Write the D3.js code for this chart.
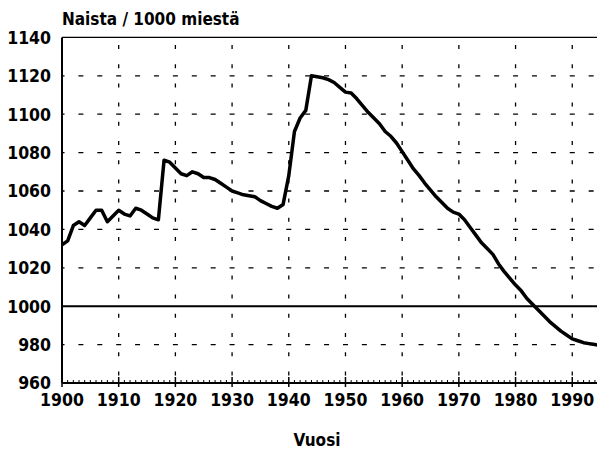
<!DOCTYPE html>
<html>
<head>
<meta charset="utf-8">
<script src="https://cdn.jsdelivr.net/npm/d3@7"></script>
<style>
    body { margin: 0; background: #fff; }
    svg text { font-family: "Liberation Sans Narrow", "DejaVu Sans Condensed", "Roboto Condensed", sans-serif; font-weight: bold; fill: #000; }
</style>
</head>
<body>
<svg id="main" width="597" height="452"></svg>
<script>
// women per 1000 men, Finland
var years = d3.range(1900, 1996);
var ratio = [
    1032, 1034, 1042, 1044, 1042, 1046, 1050, 1050, 1044, 1047,   // 1900s
    1050, 1048, 1047, 1051, 1050, 1048, 1046, 1045, 1076, 1075,   // 1910s
    1072, 1069, 1068, 1070, 1069, 1067, 1067, 1066, 1064, 1062,   // 1920s
    1060, 1059, 1058, 1057.5, 1057, 1055, 1053.5, 1052, 1051, 1053, // 1930s
    1068, 1091, 1098, 1102, 1120, 1119.5, 1119, 1118, 1116.5, 1114, // 1940s
    1111.5, 1111, 1108, 1104.5, 1101, 1098, 1095, 1091, 1088.5, 1085, // 1950s
    1080.5, 1076, 1071.5, 1068, 1064, 1060.5, 1057, 1054, 1051, 1049, // 1960s
    1048, 1045, 1041, 1037, 1033, 1030, 1027, 1022, 1018, 1014.5, // 1970s
    1011, 1008, 1004, 1001, 998, 995, 992, 989.5, 987, 985,       // 1980s
    983, 982, 981, 980.5, 980, 979.5                              // 1990s
];

var yTicks = d3.range(960, 1141, 20);
var xTicks = d3.range(1900, 1991, 10);
var minorTicks = d3.range(1900, 1996, 1);
var refLevel = 1000;

var titleText = "Naista / 1000 miestä";
var xTitleText = "Vuosi";

var svg = d3.select('svg#main');

var x = d3.scaleLinear().domain([1900, 1995]).range([62, 600.6]);
var y = d3.scaleLinear().domain([960, 1140]).range([383, 37.4]);

// careful: "top" is taken by window.top
var plotLeft = x(1900), plotRight = x(1995), plotTop = y(1140), plotBottom = y(960);

// dashed grid, dash spacing follows the scales
var hPeriod = (x(1910) - x(1900)) / 3;
var vPeriod = (y(960) - y(970));

svg.append('g')
    .selectAll('line').data(yTicks.filter(d => d != 960 && d != 1140 && d != refLevel))
    .join('line')
    .attr('x1', plotLeft).attr('x2', plotRight)
    .attr('y1', d => y(d)).attr('y2', d => y(d))
    .attr('stroke', '#000').attr('stroke-width', 1.3)
    .attr('stroke-dasharray', `5,${hPeriod - 5}`)
    .attr('stroke-dashoffset', -hPeriod + 2.5);

svg.append('g')
    .selectAll('line').data(xTicks.filter(d => d != 1900))
    .join('line')
    .attr('x1', d => x(d)).attr('x2', d => x(d))
    .attr('y1', plotBottom).attr('y2', plotTop)
    .attr('stroke', '#000').attr('stroke-width', 1.3)
    .attr('stroke-dasharray', `4,${vPeriod - 4}`)
    .attr('stroke-dashoffset', -vPeriod / 2 + 2);

// top border
svg.append('line')
    .attr('x1', plotLeft).attr('x2', plotRight)
    .attr('y1', plotTop).attr('y2', plotTop)
    .attr('stroke', '#000').attr('stroke-width', 1.2);

// 1000 reference line
svg.append('line')
    .attr('x1', plotLeft).attr('x2', plotRight)
    .attr('y1', y(refLevel)).attr('y2', y(refLevel))
    .attr('stroke', '#000').attr('stroke-width', 2);

// axes lines
svg.append('line')
    .attr('x1', plotLeft).attr('x2', plotLeft)
    .attr('y1', plotTop).attr('y2', plotBottom)
    .attr('stroke', '#000').attr('stroke-width', 2);
svg.append('line')
    .attr('x1', plotLeft).attr('x2', plotRight)
    .attr('y1', plotBottom).attr('y2', plotBottom)
    .attr('stroke', '#000').attr('stroke-width', 2);

// yearly minor ticks + decade ticks on bottom axis
svg.append('g')
    .selectAll('line').data(minorTicks)
    .join('line')
    .attr('x1', d => x(d)).attr('x2', d => x(d))
    .attr('y1', d => d % 10 == 0 ? plotBottom + 4 : plotBottom)
    .attr('y2', d => d % 10 == 0 ? plotBottom - 6 : plotBottom - 3)
    .attr('stroke', '#000').attr('stroke-width', d => d % 10 == 0 ? 1.5 : 1);

// tick labels
svg.append('g')
    .selectAll('text').data(yTicks)
    .join('text')
    .attr('x', 51).attr('y', d => y(d))
    .attr('dy', '0.36em')
    .attr('text-anchor', 'end')
    .attr('font-size', 17.5)
    .text(d => d);

svg.append('g')
    .selectAll('text').data(xTicks)
    .join('text')
    .attr('x', d => x(d)).attr('y', 406)
    .attr('text-anchor', 'middle')
    .attr('font-size', 17.5)
    .text(d => d);

svg.append('text')
    .attr('x', 62).attr('y', 25)
    .attr('font-size', 17)
    .text(titleText);

svg.append('text')
    .attr('x', 317).attr('y', 446)
    .attr('text-anchor', 'middle')
    .attr('font-size', 17)
    .text(xTitleText);

// the data line
var line = d3.line()
    .x((d, i) => x(years[i]))
    .y(d => y(d));

svg.append('path')
    .datum(ratio)
    .attr('d', line)
    .attr('fill', 'none')
    .attr('stroke', '#000')
    .attr('stroke-width', 3.5)
    .attr('stroke-linejoin', 'round');
</script>
</body>
</html>
